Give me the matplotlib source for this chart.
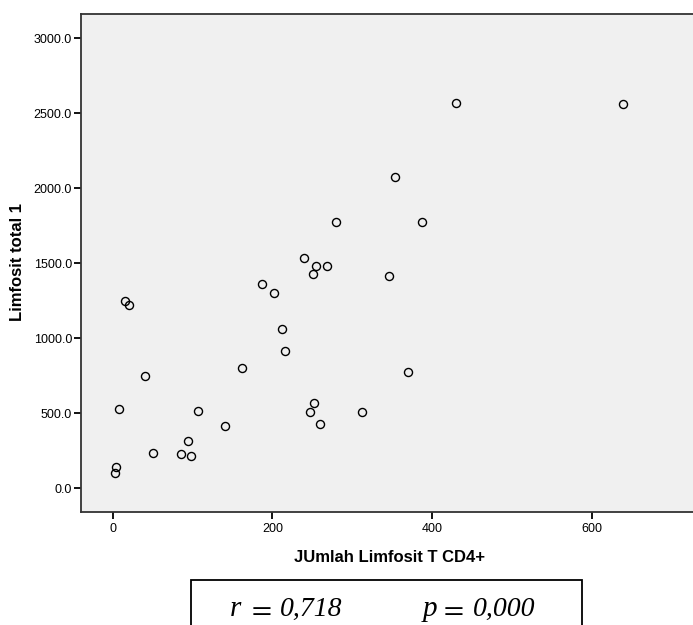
import numpy as np
import matplotlib
matplotlib.use("Agg")
import matplotlib.pyplot as plt
from matplotlib.patches import Rectangle

# CD4+ count vs total lymphocytes
cd4 = [430.4, 638.8, 353.6, 279.6, 387.8, 240.0, 254.7, 251.3, 268.1,
       187.4, 202.1, 15.0, 20.0, 346.1, 370.3, 312.3, 212.1, 216.2,
       40.5, 162.3, 7.5, 107.2, 252.2, 247.2, 259.3, 141.1, 93.9,
       50.9, 85.6, 98.1, 3.7, 2.5]
limfosit = [2568, 2565, 2075, 1777, 1779, 1538, 1485, 1430, 1485,
            1365, 1301, 1248, 1221, 1415, 777, 508, 1065, 915,
            752, 805, 532, 519, 572, 510, 430, 419, 317,
            237, 228, 217, 141, 105]

yticks = [0, 500, 1000, 1500, 2000, 2500, 3000]
xticks = [0, 200, 400, 600]
r_value = "0,718"
p_value = "0,000"

plt.rcParams['font.family'] = ['Liberation Sans', 'DejaVu Sans']
plt.rcParams['mathtext.fontset'] = 'stix'

fig = plt.figure(figsize=(6.93, 6.25), dpi=100)
W, H = 693.0, 625.0
ax = fig.add_axes([81/W, 1-512/H, (696-81)/W, (512-14)/H])
ax.set_facecolor("#f0f0f0")

ax.plot(cd4, limfosit, linestyle='none', marker='o', markersize=5.8,
        markerfacecolor='none', markeredgecolor='black', markeredgewidth=1.0)

ax.set_xlim(-39.7, 730.7)
ax.set_ylim(-157, 3163)
ax.set_xticks(xticks)
ax.set_yticks(yticks)
ax.set_yticklabels(["%.1f" % v for v in yticks])
ax.tick_params(axis='both', labelsize=9, width=1.3, length=5, pad=1.5,
               color='black', labelcolor='black')
ax.tick_params(axis='x', pad=3)
for s in ax.spines.values():
    s.set_color('#333333')
    s.set_linewidth(1.3)

ax.set_xlabel("JUmlah Limfosit T CD4+", fontsize=12, fontweight='bold')
ax.xaxis.set_label_coords((390-81)/(696-81), (512-550)/(512-14))
ax.set_ylabel("Limfosit total 1", fontsize=12, fontweight='bold')
ax.yaxis.set_label_coords((25-81)/(696-81), (512-262)/(512-14))

# result box under the chart
box = Rectangle((191/W, -0.1), (582-191)/W, 0.1+1-580/H, transform=fig.transFigure,
                facecolor='white', edgecolor='black', linewidth=1.3, clip_on=False)
fig.add_artist(box)

serif = ['Liberation Serif', 'DejaVu Serif']
base = 1 - 616/H
for sym, val, x0, xeq, xval in [("r", r_value, 230, 247, 280),
                                 ("p", p_value, 423, 439, 473)]:
    fig.text(x0/W, base, sym, fontsize=21, style='italic', family=serif, va='baseline')
    fig.text(xeq/W, base, r"$=$", fontsize=21, va='baseline')
    fig.text(xval/W, base, val, fontsize=20, style='italic', family=serif, va='baseline')

fig.savefig("out.png", dpi=100)
